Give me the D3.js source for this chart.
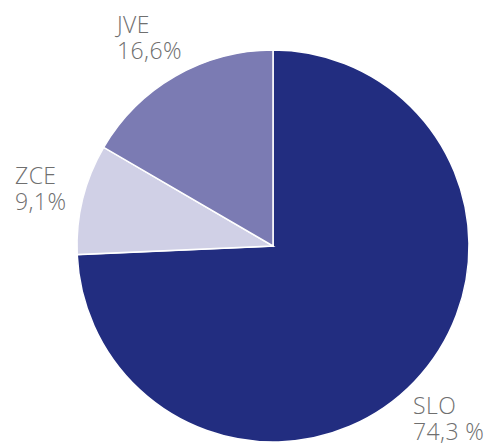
<!DOCTYPE html>
<html>
<head>
<meta charset="utf-8">
<script src="https://cdn.jsdelivr.net/npm/d3@7"></script>
<style>
  body { margin: 0; background: #fff; }
  text { font-family: "Open Sans", sans-serif; font-weight: 300; fill: #6f6f6f; }
</style>
</head>
<body>
<div class="chart"></div>
<script>
// regions and their shares
let regions = ["SLO", "ZCE", "JVE"];
let shares = [74.3, 9.1, 16.6];
let shareLabels = ["74,3 %", "9,1%", "16,6%"];
let colors = ["#222d80", "#d0d0e6", "#7b7bb3"];

let width = 491, height = 448;
let cx = 273, cy = 246, radius = 196;

let svg = d3.select('.chart')
    .append('svg')
    .attr('width', width)
    .attr('height', height);

let pie = d3.pie().sort(null).value(d => d);
let arc = d3.arc().innerRadius(0).outerRadius(radius);
let arcs = pie(shares);

let g = svg.append('g')
    .attr('transform', 'translate(' + cx + ',' + cy + ')');

g.selectAll('path')
    .data(arcs)
    .enter().append('path')
    .attr('d', arc)
    .style('fill', (d, i) => colors[i])
    .style('stroke', '#fff')
    .style('stroke-width', 1.5);

// label anchors (baseline of first line), outside each slice
let labelPos = [[413, 414], [15, 184], [117, 33]];

regions.forEach((r, i) => {
    let t = svg.append('text')
        .attr('x', labelPos[i][0])
        .attr('y', labelPos[i][1])
        .style('font-size', '23px')
        .style('letter-spacing', '0.4px');
    t.append('tspan').attr('x', labelPos[i][0]).text(r);
    t.append('tspan').attr('x', labelPos[i][0]).attr('dy', 26).text(shareLabels[i]);
});
</script>
</body>
</html>
